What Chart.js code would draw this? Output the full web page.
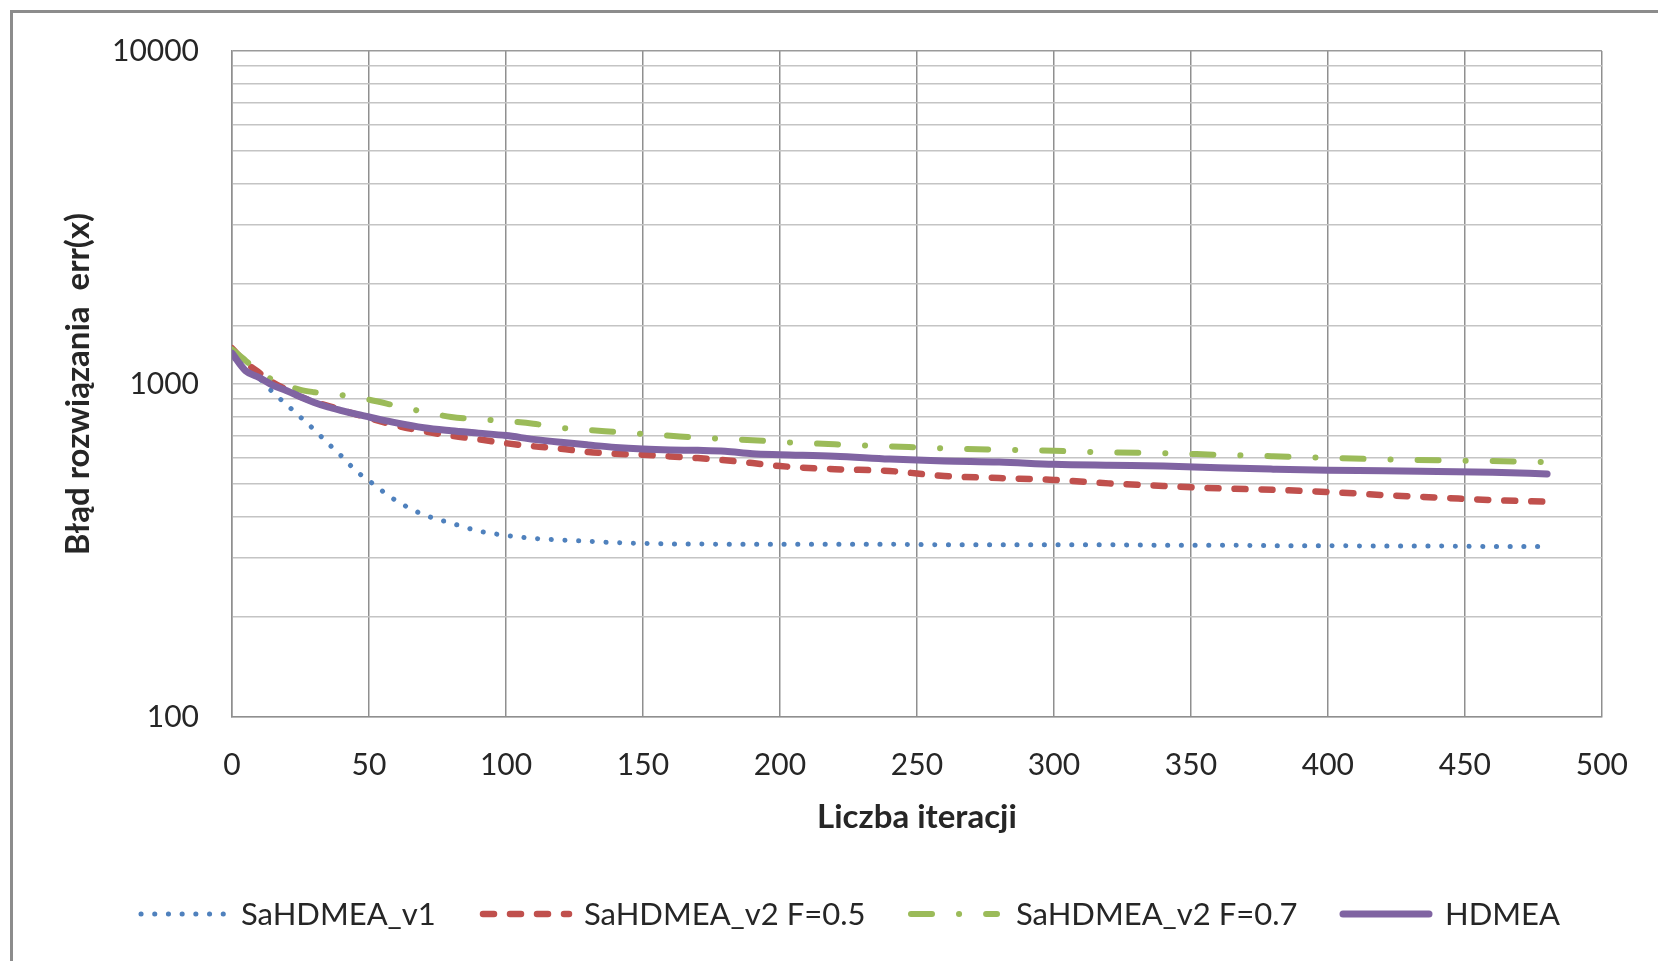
<!DOCTYPE html>
<html><head><meta charset="utf-8">
<script src="https://cdn.jsdelivr.net/npm/chart.js@4.4.1/dist/chart.umd.min.js"></script>
<style>html,body{margin:0;padding:0;background:#fff;overflow:hidden}#wrap{width:1658px;height:961px}</style>
</head><body><div id="wrap"><canvas id="c" width="1658" height="961"></canvas></div>
<script>
// ---- data ----
const iterations = [0,5,10,15,20,25,30,35,40,45,50,60,70,80,90,100,110,120,130,140,150,160,170,180,190,200,220,240,260,280,300,320,340,360,380,400,420,440,460,480];
const sahdmeaV1 = [1250,1120,1040,943,866,795,729,664,607,551,512,446,405,382,362,351,344,340,337,334,332,331,331,330,330,330,330,330,329,329,329,329,328,328,327,327,326,326,325,325];
const sahdmeaV2F05 = [1280,1160,1080,1010,960,915,885,860,835,812,790,750,721,699,682,664,650,639,625,617,613,606,599,590,579,567,555,548,529,522,515,503,494,486,481,474,464,456,448,443];
const sahdmeaV2F07 = [1270,1175,1080,1030,990,960,945,935,926,912,897,860,825,796,784,774,760,739,728,718,708,699,690,684,678,670,659,650,641,635,630,623,620,613,607,600,594,590,587,583];
const hdmea = [1237,1095,1045,990,955,915,880,853,832,813,796,764,739,724,712,700,682,668,656,645,638,634,632,628,617,613,607,595,587,583,574,570,567,560,555,551,549,546,543,537];
const seriesNames = ['SaHDMEA_v1','SaHDMEA_v2 F=0.5','SaHDMEA_v2 F=0.7','HDMEA'];
const yTickLabels = [100,1000,10000];
const xTickLabels = [0,50,100,150,200,250,300,350,400,450,500];
const xTitle = 'Liczba iteracji';
const yTitle = 'Błąd rozwiązania  err(x)';

const toPts = arr => iterations.map((x,i)=>({x:x,y:arr[i]}));

const FONT = 'Lato';
const TEXT = '#262626';

const frame = {
  id:'frame',
  beforeDraw(chart){
    const c = chart.ctx;
    c.save();
    c.fillStyle='#fff'; c.fillRect(0,0,chart.width,chart.height);
    c.strokeStyle='#8c8c8c'; c.lineWidth=3;
    c.strokeRect(11.5,11.5,1800,1200);
    c.restore();
  }
};

const legendPos = [{s:141,t:241},{s:483,t:584},{s:911,t:1016},{s:1343,t:1445}];
const customLegend = {
  id:'customLegend',
  afterDraw(chart){
    const c = chart.ctx; const y = 914;
    chart.data.datasets.forEach((ds,i)=>{
      const p = legendPos[i];
      c.save();
      c.strokeStyle = ds.borderColor; c.lineWidth = ds.borderWidth;
      c.lineCap='round'; c.setLineDash(ds.borderDash||[]);
      c.beginPath(); c.moveTo(p.s,y); c.lineTo(p.s+86,y); c.stroke();
      c.setLineDash([]);
      c.fillStyle=TEXT; c.font='31px '+FONT; c.textBaseline='middle'; c.textAlign='left';
      c.fillText(ds.label,p.t,y+1);
      c.restore();
    });
  }
};

function build(){
  Chart.defaults.font.family = FONT;
  new Chart(document.getElementById('c'),{
    type:'line',
    data:{datasets:[
      {label:seriesNames[0],data:toPts(sahdmeaV1),borderColor:'#4F81BD',borderWidth:5,borderDash:[0.1,13.6],borderCapStyle:'round',order:3},
      {label:seriesNames[1],data:toPts(sahdmeaV2F05),borderColor:'#C0504D',borderWidth:6.5,borderDash:[11,16],borderCapStyle:'round',order:2},
      {label:seriesNames[2],data:toPts(sahdmeaV2F07),borderColor:'#9BBB59',borderWidth:6,borderDash:[21,27,0.1,27],borderCapStyle:'round',order:1},
      {label:seriesNames[3],data:toPts(hdmea),borderColor:'#8064A2',borderWidth:7,borderCapStyle:'round',order:0}
    ].map(d=>Object.assign({pointRadius:0,fill:false,cubicInterpolationMode:'monotone',borderJoinStyle:'round'},d))},
    options:{
      responsive:false, animation:false, devicePixelRatio:1,
      layout:{padding:{top:51,right:52,bottom:0,left:0}},
      plugins:{legend:{display:false},tooltip:{enabled:false}},
      scales:{
        x:{type:'linear',min:0,max:500,
          afterFit:s=>{s.height=244;},
          afterBuildTicks:s=>{s.ticks=xTickLabels.map(v=>({value:v}));},
          ticks:{font:{size:30},color:TEXT,padding:30,maxRotation:0,autoSkip:false},
          grid:{color:'#8f8f8f',lineWidth:1.5,drawTicks:false},
          border:{color:'#8f8f8f',width:1.5},
          title:{display:true,text:xTitle,color:TEXT,font:{size:33,weight:'bold'},padding:{top:0,bottom:124}}
        },
        y:{type:'logarithmic',min:100,max:10000,
          afterFit:s=>{s.width=232;},
          ticks:{font:{size:30},color:TEXT,padding:33,autoSkip:false,
            callback:v=>yTickLabels.includes(Math.round(v))&&Math.abs(v-Math.round(v))<1e-6?String(Math.round(v)):''},
          grid:{color:c=>(c.tick&&Math.round(c.tick.value)===10000)?'#9a9a9a':'#c4c4c4',lineWidth:1.5,drawTicks:false},
          border:{color:'#8f8f8f',width:1.5},
          title:{display:true,text:yTitle,color:TEXT,font:{size:33,weight:'bold'},padding:{top:59,bottom:0}}
        }
      }
    },
    plugins:[frame,customLegend]
  });
}
const ready = (document.fonts && document.fonts.load) ? Promise.all([document.fonts.load('30px Lato'),document.fonts.load('bold 30px Lato')]).catch(()=>{}) : Promise.resolve();
Promise.race([ready,new Promise(r=>setTimeout(r,1500))]).then(build);
</script></body></html>
